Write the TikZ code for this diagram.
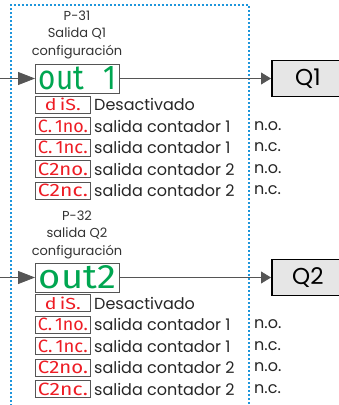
\documentclass[tikz,border=0pt]{standalone}
\usepackage{fontspec}
\setmainfont{Poppins}
\newfontfamily\segfont{Fira Sans}
\usetikzlibrary{arrows.meta}
\definecolor{dotblue}{HTML}{1E96DC}
\definecolor{segred}{HTML}{EE1C24}
\definecolor{seggreen}{HTML}{00A651}
\definecolor{boxgray}{HTML}{E6E6E6}
\definecolor{linegray}{HTML}{555555}
\newcommand{\segopt}[1]{\resizebox{50pt}{12.5pt}{#1}}
\newcommand{\segdis}[1]{\resizebox{36pt}{12.5pt}{#1}}
\newcommand{\segout}[1]{\resizebox{77pt}{23pt}{#1}}
\begin{document}
\begin{tikzpicture}[x=1pt,y=-1pt,
  outbox/.style={draw=linegray,line width=0.8pt,fill=white,minimum width=84pt,minimum height=29pt,inner sep=0pt,
    font=\segfont\fontsize{22}{22}\selectfont,text=seggreen,anchor=west},
  optbox/.style={draw=linegray,line width=0.8pt,fill=white,minimum width=55pt,minimum height=17pt,inner sep=0pt,
    font=\segfont\fontsize{13.5}{13.5}\selectfont,text=segred,anchor=west},
  qbox/.style={draw=black,line width=1.8pt,fill=boxgray,minimum width=72pt,minimum height=36pt,inner sep=0pt,
    font=\fontsize{23}{23}\selectfont,anchor=west},
  lbl/.style={font=\fontsize{13}{17.5}\selectfont,text=black!80,align=center,inner sep=0pt},
  opt/.style={font=\fontsize{16}{16}\selectfont,text=black!85,anchor=west,inner sep=0pt},
  conn/.style={draw=linegray,line width=0.8pt},
  bigtip/.style={-{Triangle[length=17pt,width=13pt]}},
  smalltip/.style={-{Triangle[length=10pt,width=12pt]}}
]
\useasboundingbox (0,0) rectangle (338,405);
% dotted frame
\draw[dotblue,line width=2.4pt,dash pattern=on 2.4pt off 1.6pt] (11,410) -- (11,5) -- (249,5) -- (249,410);

% ---- section 1 ----
\node[lbl] (p31) at (77,34.5) {P-31\\Salida Q1\\configuración};
\node[outbox] (out1) at (35,78.5) {\segout{out\hspace{14pt}1}};
\node[qbox] (q1) at (271,78.5) {Q1};
\coordinate (in1) at (0,78.5);
\draw[conn,bigtip] (in1) -- (out1.west);
\draw[conn,smalltip] (out1.east) -- (q1.west);

\node[optbox] (a1) at (35,104.5) {\hfill\segdis{d\,iS.}\hspace{1.5pt}};
\node[optbox] (b1) at (35,126) {\segopt{C.\,1no.}};
\node[optbox] (c1) at (35,147.5) {\segopt{C.\,1nc.}};
\node[optbox] (d1) at (35,169) {\segopt{C2no.}};
\node[optbox] (e1) at (35,190.5) {\segopt{C2nc.}};
\node[opt] (ta1) at (94,104.5) {Desactivado};
\node[opt] (tb1) at (94,126) {salida contador 1};
\node[opt] (tc1) at (94,147.5) {salida contador 1};
\node[opt] (td1) at (94,169) {salida contador 2};
\node[opt] (te1) at (94,190.5) {salida contador 2};
\node[opt] (nb1) at (254,126) {n.o.};
\node[opt] (nc1) at (254,147.5) {n.c.};
\node[opt] (nd1) at (254,169) {n.o.};
\node[opt] (ne1) at (254,190.5) {n.c.};

% ---- section 2 ----
\node[lbl] (p32) at (77,234.5) {P-32\\salida Q2\\configuración};
\node[outbox] (out2) at (35,277.5) {\segout{out2}};
\node[qbox] (q2) at (271,277.5) {Q2};
\coordinate (in2) at (0,277.5);
\draw[conn,bigtip] (in2) -- (out2.west);
\draw[conn,smalltip] (out2.east) -- (q2.west);

\node[optbox] (a2) at (35,303) {\hfill\segdis{d\,iS.}\hspace{1.5pt}};
\node[optbox] (b2) at (35,324.5) {\segopt{C.\,1no.}};
\node[optbox] (c2) at (35,346) {\segopt{C.\,1nc.}};
\node[optbox] (d2) at (35,367.5) {\segopt{C2no.}};
\node[optbox] (e2) at (35,389) {\segopt{C2nc.}};
\node[opt] (ta2) at (94,303) {Desactivado};
\node[opt] (tb2) at (94,324.5) {salida contador 1};
\node[opt] (tc2) at (94,346) {salida contador 1};
\node[opt] (td2) at (94,367.5) {salida contador 2};
\node[opt] (te2) at (94,389) {salida contador 2};
\node[opt] (nb2) at (254,324.5) {n.o.};
\node[opt] (nc2) at (254,346) {n.c.};
\node[opt] (nd2) at (254,367.5) {n.o.};
\node[opt] (ne2) at (254,389) {n.c.};
\end{tikzpicture}
\end{document}
